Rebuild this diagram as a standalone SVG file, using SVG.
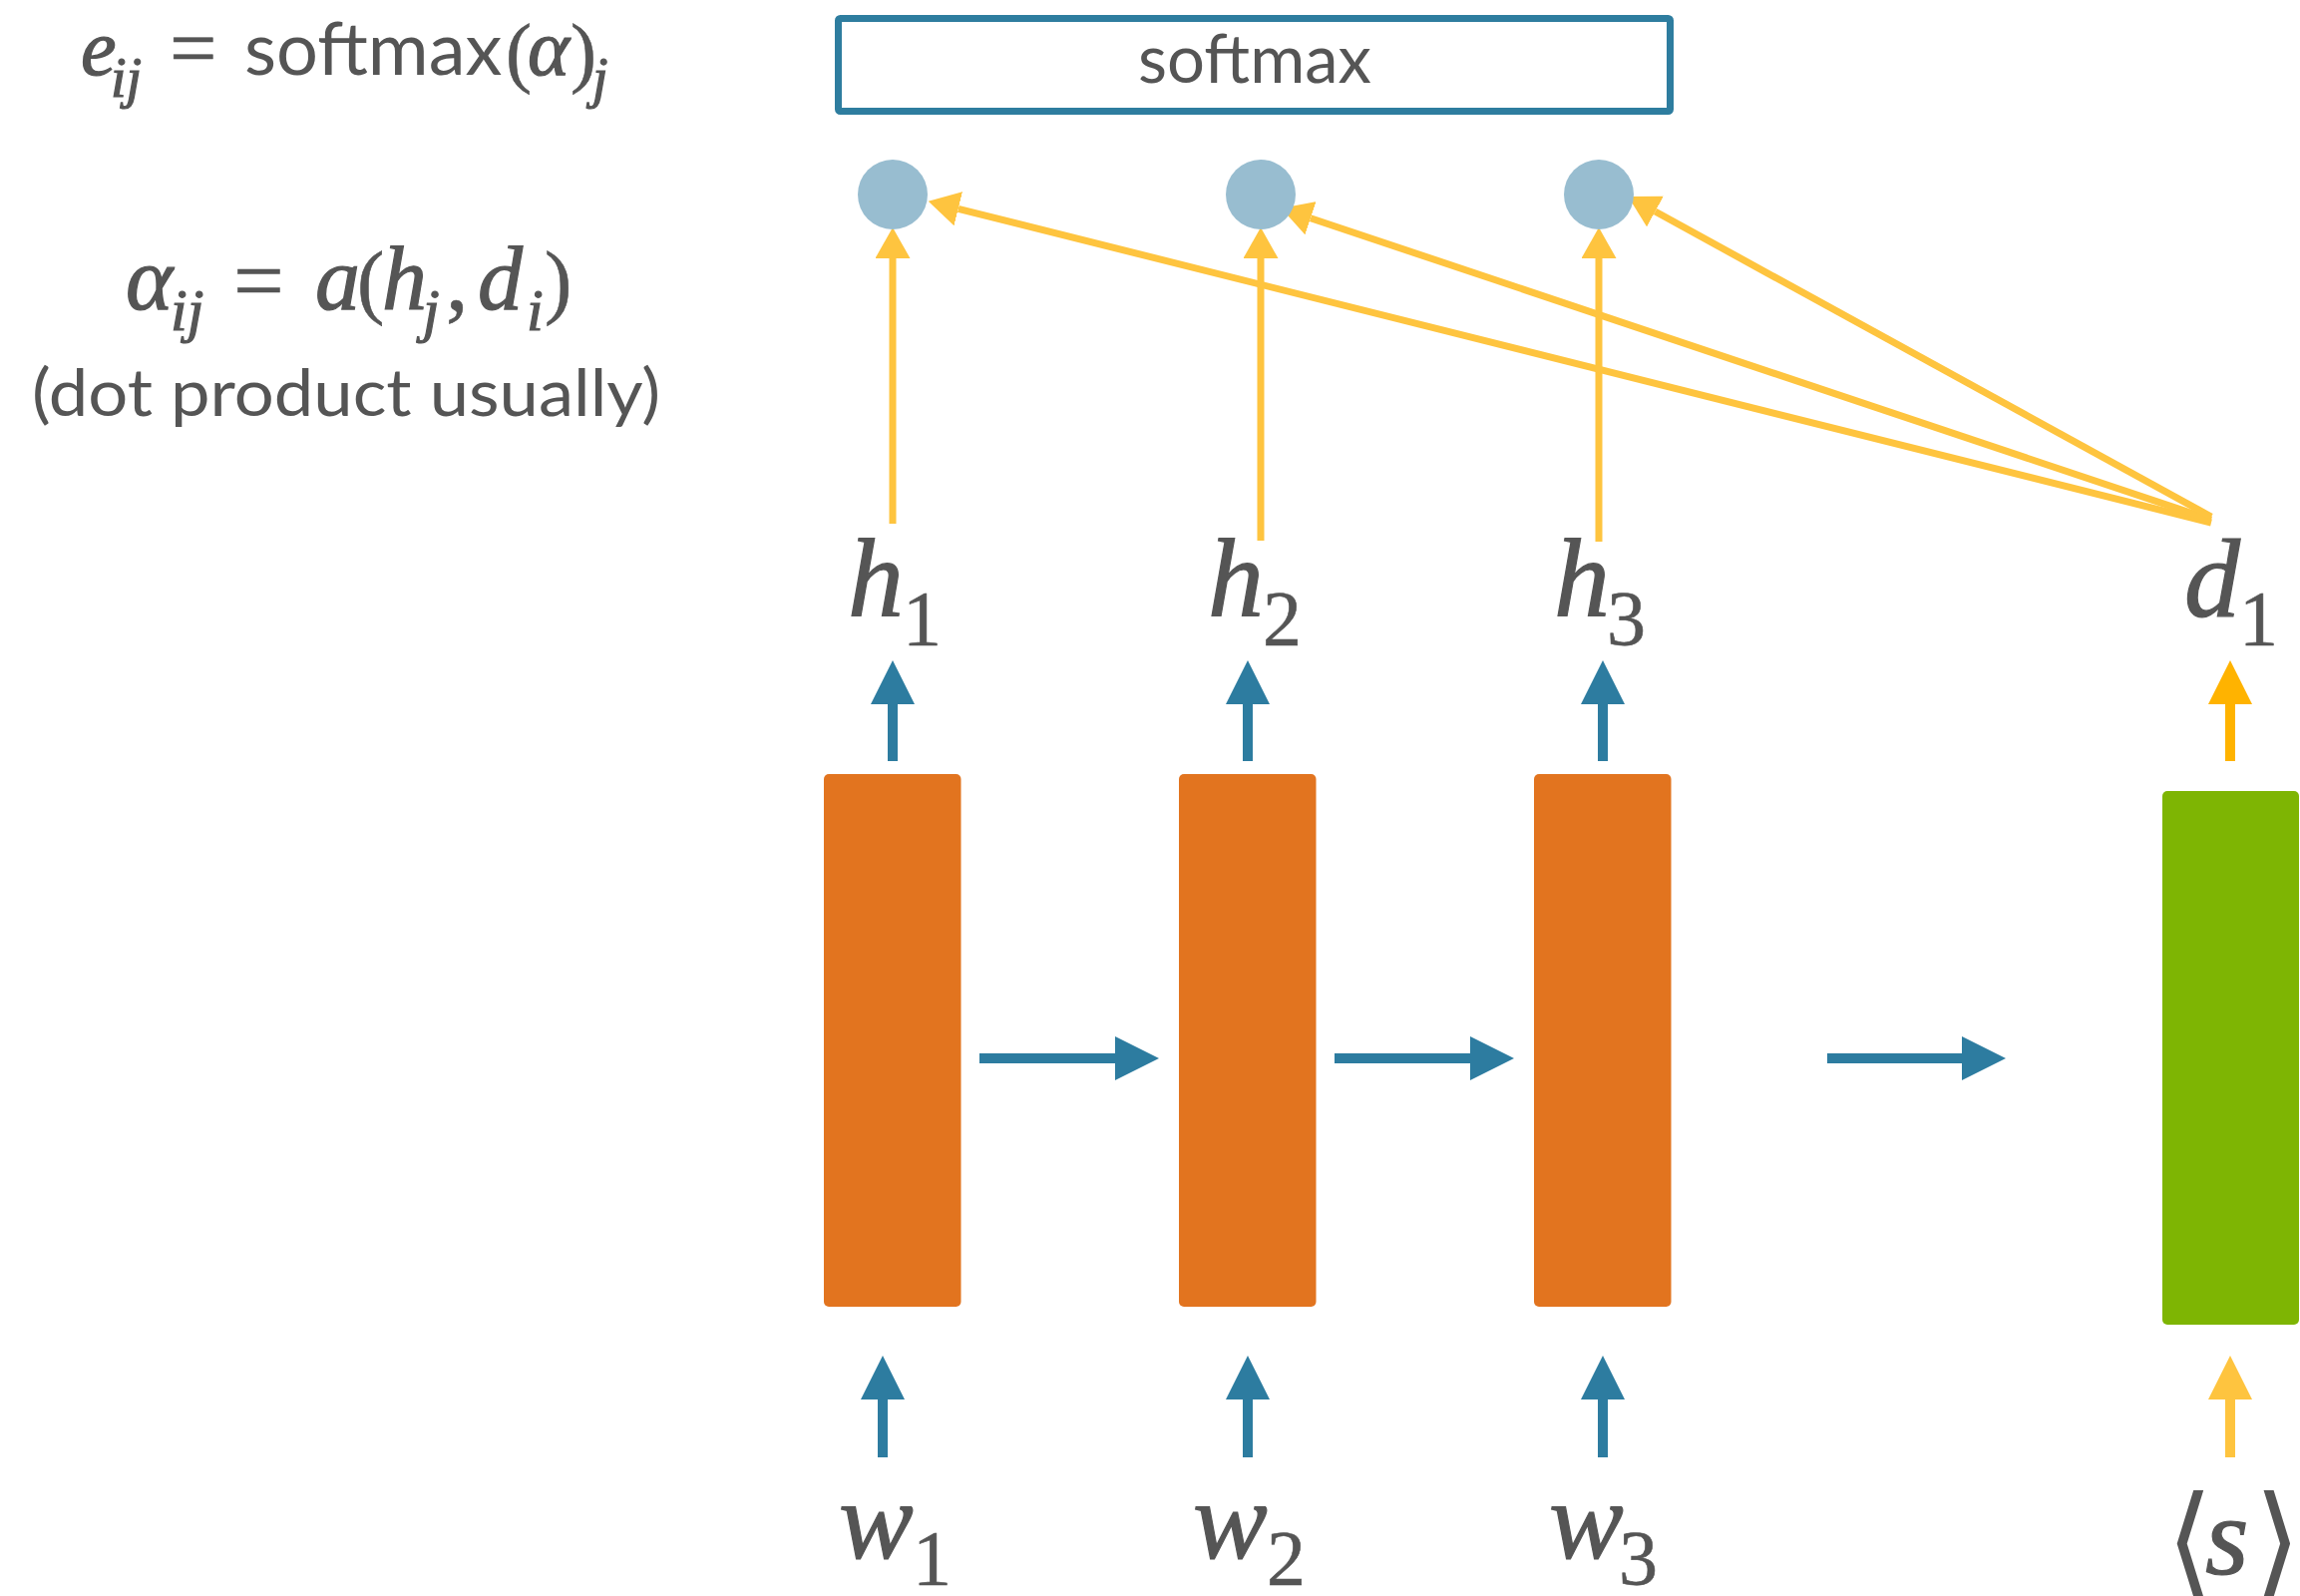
<svg xmlns="http://www.w3.org/2000/svg" width="2306" height="1600" viewBox="0 0 2306 1600">
<defs>
<style>
.it{font-family:"Liberation Serif","DejaVu Serif",serif;font-style:italic;fill:#555555;stroke:#555555;stroke-width:1.2}
.rm{font-family:"Liberation Serif","DejaVu Serif",serif;fill:#555555;stroke:#555555;stroke-width:0.6}
.sans{font-family:Lato,"Open Sans","Liberation Sans",sans-serif;fill:#555555}
.brk{font-family:"DejaVu Sans","Noto Sans CJK SC",sans-serif;fill:#555555}
.lbl{font-size:112px}
.sub{font-size:78px}
.enc{fill:#E2741F}
.dec{fill:#7EB503}
.att{fill:#98BDD0}
.blue{stroke:#2D7CA0;stroke-width:10;fill:none}
.yel{stroke:#FEC43F;stroke-width:7;fill:none}
.amb{stroke:#FFB300;stroke-width:10;fill:none}
.syel{stroke:#FEC43F;stroke-width:10;fill:none}
</style>
<marker id="hb" markerUnits="userSpaceOnUse" markerWidth="44" markerHeight="44" refX="0" refY="22" orient="auto"><path d="M0,0 L44,22 L0,44 z" fill="#2D7CA0"/></marker>
<marker id="hy" markerUnits="userSpaceOnUse" markerWidth="31" markerHeight="35" refX="0" refY="17.5" orient="auto"><path d="M0,0 L31,17.5 L0,35 z" fill="#FEC43F"/></marker>
<marker id="hyb" markerUnits="userSpaceOnUse" markerWidth="44" markerHeight="44" refX="0" refY="22" orient="auto"><path d="M0,0 L44,22 L0,44 z" fill="#FEC43F"/></marker>
<marker id="ha" markerUnits="userSpaceOnUse" markerWidth="44" markerHeight="44" refX="0" refY="22" orient="auto"><path d="M0,0 L44,22 L0,44 z" fill="#FFB300"/></marker>
</defs>
<rect width="2306" height="1600" fill="#ffffff"/>

<g id="formulas">
<text>
<tspan class="it" x="81" y="75" font-size="80">e</tspan><tspan class="it" x="111" y="97" font-size="56">ij</tspan><tspan class="rm" x="170" y="77" font-size="84">=</tspan><tspan class="sans" x="245" y="75" font-size="74">softmax</tspan><tspan class="rm" x="507" y="78" font-size="78">(</tspan><tspan class="it" x="529" y="75" font-size="80">α</tspan><tspan class="rm" x="572" y="78" font-size="78">)</tspan><tspan class="it" x="594" y="97" font-size="56">j</tspan>
</text>
<text>
<tspan class="it" x="126" y="310" font-size="90">α</tspan><tspan class="it" x="171" y="331" font-size="60">ij</tspan><tspan class="rm" x="234" y="312" font-size="90">=</tspan><tspan class="it" x="316" y="310" font-size="90">a</tspan><tspan class="rm" x="358" y="309" font-size="82">(</tspan><tspan class="it" x="383" y="310" font-size="90">h</tspan><tspan class="it" x="424" y="331" font-size="60">j</tspan><tspan class="rm" x="447" y="310" font-size="90">,</tspan><tspan class="it" x="479" y="310" font-size="90">d</tspan><tspan class="it" x="528" y="331" font-size="60">i</tspan><tspan class="rm" x="546" y="309" font-size="82">)</tspan>
</text>
<text class="sans" x="347" y="417" font-size="66" text-anchor="middle" textLength="630" lengthAdjust="spacingAndGlyphs">(dot product usually)</text>
</g>

<g id="connectors">
<line class="blue" x1="982" y1="1061" x2="1118" y2="1061" marker-end="url(#hb)"/>
<line class="blue" x1="1338" y1="1061" x2="1474" y2="1061" marker-end="url(#hb)"/>
<line class="blue" x1="1832" y1="1061" x2="1967" y2="1061" marker-end="url(#hb)"/>
<line class="blue" x1="885" y1="1461" x2="885" y2="1403" marker-end="url(#hb)"/>
<line class="blue" x1="1251" y1="1461" x2="1251" y2="1403" marker-end="url(#hb)"/>
<line class="blue" x1="1607" y1="1461" x2="1607" y2="1403" marker-end="url(#hb)"/>
<line class="syel" x1="2236" y1="1461" x2="2236" y2="1403" marker-end="url(#hyb)"/>
<line class="blue" x1="895" y1="763" x2="895" y2="706" marker-end="url(#hb)"/>
<line class="blue" x1="1251" y1="763" x2="1251" y2="706" marker-end="url(#hb)"/>
<line class="blue" x1="1607" y1="763" x2="1607" y2="706" marker-end="url(#hb)"/>
<line class="amb" x1="2236" y1="763" x2="2236" y2="706" marker-end="url(#ha)"/>
<line class="yel" x1="895" y1="525" x2="895" y2="259" marker-end="url(#hy)"/>
<line class="yel" x1="1264" y1="542" x2="1264" y2="259" marker-end="url(#hy)"/>
<line class="yel" x1="1603" y1="543" x2="1603" y2="259" marker-end="url(#hy)"/>
<line class="yel" x1="2217" y1="524" x2="960.8" y2="209.3" marker-end="url(#hy)"/>
<line class="yel" x1="2217" y1="521" x2="1314" y2="218.7" marker-end="url(#hy)"/>
<line class="yel" x1="2217" y1="518" x2="1659.5" y2="212" marker-end="url(#hy)"/>
</g>

<g id="node-softmax">
<rect x="840.5" y="18.5" width="834" height="93" rx="2" fill="#ffffff" stroke="#2E7D9F" stroke-width="7"/>
<text class="sans" x="1258" y="83" font-size="67" text-anchor="middle">softmax</text>
</g>

<g id="node-a1"><circle class="att" cx="895" cy="195" r="35"/></g>
<g id="node-a2"><circle class="att" cx="1264" cy="195" r="35"/></g>
<g id="node-a3"><circle class="att" cx="1603" cy="195" r="35"/></g>

<g id="node-h1"><text><tspan class="it lbl" x="850" y="618">h</tspan><tspan class="rm sub" x="905" y="646">1</tspan></text></g>
<g id="node-h2"><text><tspan class="it lbl" x="1211" y="618">h</tspan><tspan class="rm sub" x="1266" y="646">2</tspan></text></g>
<g id="node-h3"><text><tspan class="it lbl" x="1558" y="618">h</tspan><tspan class="rm sub" x="1611" y="646">3</tspan></text></g>
<g id="node-d1"><text><tspan class="it lbl" x="2190" y="618">d</tspan><tspan class="rm sub" x="2245" y="646">1</tspan></text></g>

<g id="node-enc1"><rect class="enc" x="826" y="776" width="137.5" height="534" rx="5"/></g>
<g id="node-enc2"><rect class="enc" x="1182" y="776" width="137.5" height="534" rx="5"/></g>
<g id="node-enc3"><rect class="enc" x="1538" y="776" width="137.5" height="534" rx="5"/></g>
<g id="node-dec1"><rect class="dec" x="2168" y="793" width="137" height="535" rx="5"/></g>

<g id="node-w1"><text><tspan class="it lbl" x="841" y="1562">w</tspan><tspan class="rm sub" x="915" y="1588">1</tspan></text></g>
<g id="node-w2"><text><tspan class="it lbl" x="1196" y="1562">w</tspan><tspan class="rm sub" x="1270" y="1588">2</tspan></text></g>
<g id="node-w3"><text><tspan class="it lbl" x="1553" y="1562">w</tspan><tspan class="rm sub" x="1623" y="1588">3</tspan></text></g>
<g id="node-s"><text><tspan class="brk" x="2172" y="1585" font-size="120">⟨</tspan><tspan class="it lbl" x="2211" y="1578">s</tspan><tspan class="brk" x="2260" y="1585" font-size="120">⟩</tspan></text></g>
</svg>
